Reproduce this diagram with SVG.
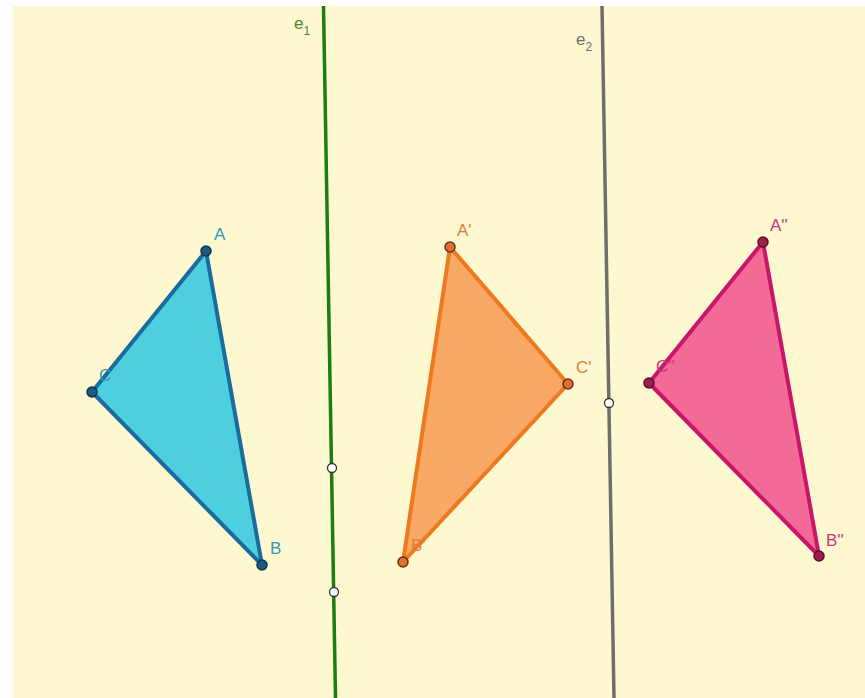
<svg xmlns="http://www.w3.org/2000/svg" width="865" height="698" viewBox="0 0 865 698">
<style>
text{font-family:"Liberation Sans",Arial,sans-serif;font-size:17px}
.tri{stroke-width:4;stroke-linejoin:round}
.pt{stroke-width:1.5}
.lab1{fill:#3596BE}
.lab2{fill:#E37D35}
.lab3{fill:#C8387A}
.wp{fill:#fff;stroke-width:1.3}
</style>
<rect width="865" height="698" fill="#ffffff"/>
<rect x="13" y="6" width="852" height="692" fill="#FEF8D0"/>
<g id="connectors">
<line id="e1" x1="323.5" y1="6" x2="335.5" y2="698" stroke="#1E7D10" stroke-width="3.5"/>
<line id="e2" x1="602" y1="6" x2="614" y2="698" stroke="#6E6E6E" stroke-width="3.5"/>
</g>
<g id="label-e1"><text x="294" y="29" fill="#4F7F3A">e<tspan font-size="12" dy="6">1</tspan></text></g>
<g id="label-e2"><text x="576" y="45" fill="#6F6F6F">e<tspan font-size="12" dy="6">2</tspan></text></g>
<g id="triangle-ABC">
<polygon class="tri" points="206,251 92,392 262,565" fill="#4DCFE0" stroke="#1A6B9E"/>
<circle class="pt" cx="206" cy="251" r="5" fill="#1C5C80" stroke="#0E3550"/>
<circle class="pt" cx="92" cy="392" r="5" fill="#1C5C80" stroke="#0E3550"/>
<circle class="pt" cx="262" cy="565" r="5" fill="#1C5C80" stroke="#0E3550"/>
<text class="lab1" x="214" y="240">A</text>
<text class="lab1" x="99" y="381">C</text>
<text class="lab1" x="270" y="554">B</text>
</g>
<g id="triangle-A1B1C1">
<polygon class="tri" points="450,247 568,384 403,562" fill="#F9A865" stroke="#EE7A20"/>
<circle class="pt" cx="450" cy="247" r="5" fill="#E07030" stroke="#6A2E10"/>
<circle class="pt" cx="568" cy="384" r="5" fill="#E07030" stroke="#6A2E10"/>
<circle class="pt" cx="403" cy="562" r="5" fill="#E07030" stroke="#6A2E10"/>
<text class="lab2" x="457" y="236">A'</text>
<text class="lab2" x="576" y="373">C'</text>
<text class="lab2" x="411" y="551">B'</text>
</g>
<g id="triangle-A2B2C2">
<polygon class="tri" points="763,242 649,383 819,556" fill="#F46A97" stroke="#C8166A"/>
<circle class="pt" cx="763" cy="242" r="5" fill="#9E1F4E" stroke="#5A0E28"/>
<circle class="pt" cx="649" cy="383" r="5" fill="#9E1F4E" stroke="#5A0E28"/>
<circle class="pt" cx="819" cy="556" r="5" fill="#9E1F4E" stroke="#5A0E28"/>
<text class="lab3" x="770" y="231">A''</text>
<text class="lab3" x="656" y="372">C''</text>
<text class="lab3" x="826" y="546">B''</text>
</g>
<g id="points-on-lines">
<circle class="wp" cx="332" cy="468" r="4.5" stroke="#333"/>
<circle class="wp" cx="334" cy="592" r="4.5" stroke="#333"/>
<circle class="wp" cx="609" cy="403" r="4.5" stroke="#333"/>
</g>
</svg>
